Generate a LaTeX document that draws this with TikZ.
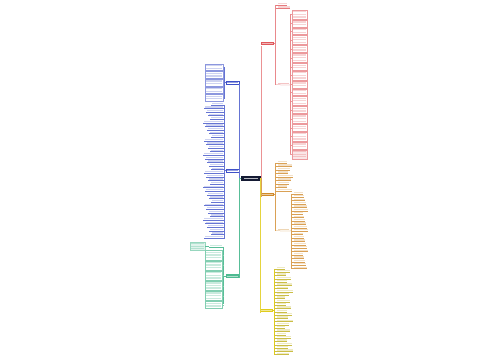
\documentclass[tikz,border=0pt]{standalone}
\usetikzlibrary{calc}
\definecolor{cR}{HTML}{E0575B}
\definecolor{cO}{HTML}{D08A2A}
\definecolor{cY}{HTML}{E0CC1C}
\definecolor{cB}{HTML}{3F51C8}
\definecolor{cG}{HTML}{2FAE7E}
\definecolor{cC}{HTML}{141A33}
\tikzset{
  mainbox/.style={rectangle, inner sep=0pt, minimum width=13pt, minimum height=3.6pt},
  subbox/.style={rectangle, inner sep=0pt, minimum width=12pt, minimum height=3pt},
  conn/.style={line width=.4pt},
}
\newcommand\mmleafR[5]{% bracket x, y, x, width, colour
  \draw[#5!80, line width=.25pt] (#1,#2+.8) -- (#3+#4,#2+.8);
  \fill[#5, opacity=.25] (#3+.5,#2-1.3) rectangle (#3+#4-.5,#2);
}
\newcommand\mmleafL[5]{% bracket x, y, right x, width, colour
  \draw[#5!80, line width=.25pt] (#1,#2+.8) -- (#3-#4,#2+.8);
  \fill[#5, opacity=.25] (#3-#4+.5,#2-1.3) rectangle (#3-.5,#2);
}
\newcommand\mmpara[5]{% x, y, width, lines, colour
  \draw[#5!60, line width=.25pt] (#1,#2) rectangle (#1+#3,#2+2.6*#4+1.4);
  \foreach \kk in {1,...,#4}{\fill[#5, opacity=.25] (#1+1,#2+2.6*\kk-1.5) rectangle (#1+#3-1,#2+2.6*\kk-0.2);}
}
\begin{document}
\begin{tikzpicture}[x=1pt,y=-1pt]
\useasboundingbox (0,0) rectangle (500,360);
\fill[white] (0,0) rectangle (500,360);

% centre
\node[fill=cC, inner sep=0pt, minimum width=20pt, minimum height=4.8pt, anchor=west] (C) at (241,178.5) {};
\fill[white, opacity=.7] (244,177.9) rectangle (258,179.1);

% main nodes
\node[mainbox, fill=cR, anchor=west] (R) at (261,43.5) {};
\node[mainbox, fill=cO, anchor=west] (O) at (261,194.5) {};
\node[mainbox, fill=cY, anchor=west] (Y) at (260,310.5) {};
\node[mainbox, fill=white, draw=cB, line width=.35pt, anchor=east] (B1) at (239,82.5) {};
\node[mainbox, fill=white, draw=cB, line width=.35pt, anchor=east] (B2) at (239,170.5) {};
\node[mainbox, fill=cG!85, anchor=east] (G) at (239,276) {};
\foreach \n in {R,O,Y}{\fill[white, opacity=.55] ($(\n.west)+(1,-.5)$) rectangle ($(\n.east)+(-1,.5)$);}
\foreach \n in {B1,B2}{\fill[cB, opacity=.55] ($(\n.west)+(1,-.5)$) rectangle ($(\n.east)+(-1,.5)$);}
\fill[white, opacity=.55] ($(G.west)+(1,-.5)$) rectangle ($(G.east)+(-1,.5)$);

% trunks
\draw[cR!65, conn] (C.east) -| (R.south west);
\draw[cO!80, conn] (C.east) -| (O.south west);
\draw[cY!85, conn] (C.east) -| (Y.south west);
\draw[cB!80, conn] (C.west) -| (B1.south east);
\draw[cB!80, conn] (C.west) -| (B2.south east);
\draw[cG!80, conn] (C.west) -| (G.south east);

% ---------- red branch
\draw[cR!70, line width=.3pt] (R.east) -- (275.5,43.5);
\draw[cR!70, line width=.3pt] (275.5,4.8) -- (275.5,84.8);
\mmleafR{275.5}{4}{277}{10}{cR}
\mmleafR{275.5}{7.5}{277}{13}{cR}
\node[subbox, anchor=west] (R2) at (277,83.3) {};
\draw[cR!80, line width=.25pt] (275.5,84.8) -- (R2.south east);
\fill[cR, opacity=.35] ($(R2.west)+(.5,-.7)$) rectangle ($(R2.east)+(-.5,.6)$);
\draw[cR!70, line width=.3pt] (R2.south east) -- (290,84.8);
\fill[cR!15] (292,149.5) rectangle (307,158.5);
\def\yy{10}
\foreach \n in {3,2,2,3,2,3,2,3,2,2,3,2,3,2,3,2,3}{
  \pgfmathsetmacro\h{2.6*\n+1.4}
  \mmpara{292}{\yy}{15}{\n}{cR}
  \draw[cR!60, line width=.25pt] (290,\yy+\h/2) -- (292,\yy+\h/2);
  \pgfmathsetmacro\ny{\yy+\h+1}\xdef\yy{\ny}
}
\draw[cR!70, line width=.3pt] (290,13.5) -- (290,154);

% ---------- orange branch
\draw[cO!80, line width=.3pt] (O.east) -- (275.5,194.5);
\draw[cO!80, line width=.3pt] (275.5,162.8) -- (275.5,230.8);
\foreach \k in {0,...,8}{
  \pgfmathsetmacro\w{10+mod(\k*5,7)}
  \mmleafR{275.5}{162+3.5*\k}{277}{\w}{cO}
}
\node[subbox, anchor=west] (O2) at (277,229.3) {};
\draw[cO!80, line width=.25pt] (275.5,230.8) -- (O2.south east);
\fill[cO, opacity=.35] ($(O2.west)+(.5,-.7)$) rectangle ($(O2.east)+(-.5,.6)$);
\draw[cO!80, line width=.3pt] (O2.south east) -- (291,230.8);
\draw[cO!80, line width=.3pt] (291,193.8) -- (291,268.6);
\foreach \k in {0,...,22}{
  \pgfmathsetmacro\w{10+mod(\k*7,6)}
  \mmleafR{291}{193+3.4*\k}{293}{\w}{cO}
}

% ---------- yellow branch
\draw[cY, line width=.3pt] (Y.east) -- (274.5,310.5);
\draw[cY, line width=.3pt] (274.5,268.8) -- (274.5,354.6);
\foreach \k in {0,...,26}{
  \pgfmathsetmacro\w{9+mod(\k*5,9)}
  \mmleafR{274.5}{268+3.3*\k}{276}{\w}{cY!85!black}
}

% ---------- blue branch 1
\draw[cB!80, line width=.3pt] (B1.west) -- (224.5,82.5);
\def\yy{64}
\foreach \n in {2,2,2,2,2}{
  \pgfmathsetmacro\h{2.6*\n+1.4}
  \mmpara{205}{\yy}{18}{\n}{cB}
  \draw[cB!60, line width=.25pt] (223,\yy+\h/2) -- (224.5,\yy+\h/2);
  \pgfmathsetmacro\ny{\yy+\h+1}\xdef\yy{\ny}
}
\draw[cB!80, line width=.3pt] (224.5,67.3) -- (224.5,99.3);

% ---------- blue branch 2
\draw[cB!80, line width=.3pt] (B2.west) -- (224.5,170.5);
\draw[cB!80, line width=.3pt] (224.5,104.8) -- (224.5,238);
\foreach \k in {0,...,37}{
  \pgfmathsetmacro\w{12+mod(\k*7,9)}
  \mmleafL{224.5}{104+3.6*\k}{223}{\w}{cB}
}

% ---------- green branch
\draw[cG!80, line width=.3pt] (G.west) -- (223.5,276);
\draw[cG!80, line width=.3pt] (223.5,246.8) -- (223.5,303.5);
\mmleafL{223.5}{246}{222}{13}{cG}
\node[rectangle, fill=cG!15, draw=cG!50, line width=.25pt, inner sep=0pt, minimum width=15pt, minimum height=8pt, anchor=east] (G1) at (205,246.5) {};
\foreach \k in {0,1,2}{\fill[cG, opacity=.25] (191,243.3+2.5*\k) rectangle (204,244.4+2.5*\k);}
\draw[cG!80, line width=.25pt] (G1.east) -- (209,246.5);
\def\yy{250.5}
\foreach \n in {3,3,3,3,3,2}{
  \pgfmathsetmacro\h{2.6*\n+1.4}
  \mmpara{205}{\yy}{17}{\n}{cG}
  \draw[cG!60, line width=.25pt] (222,\yy+\h/2) -- (223.5,\yy+\h/2);
  \pgfmathsetmacro\ny{\yy+\h+1}\xdef\yy{\ny}
}
\end{tikzpicture}
\end{document}
